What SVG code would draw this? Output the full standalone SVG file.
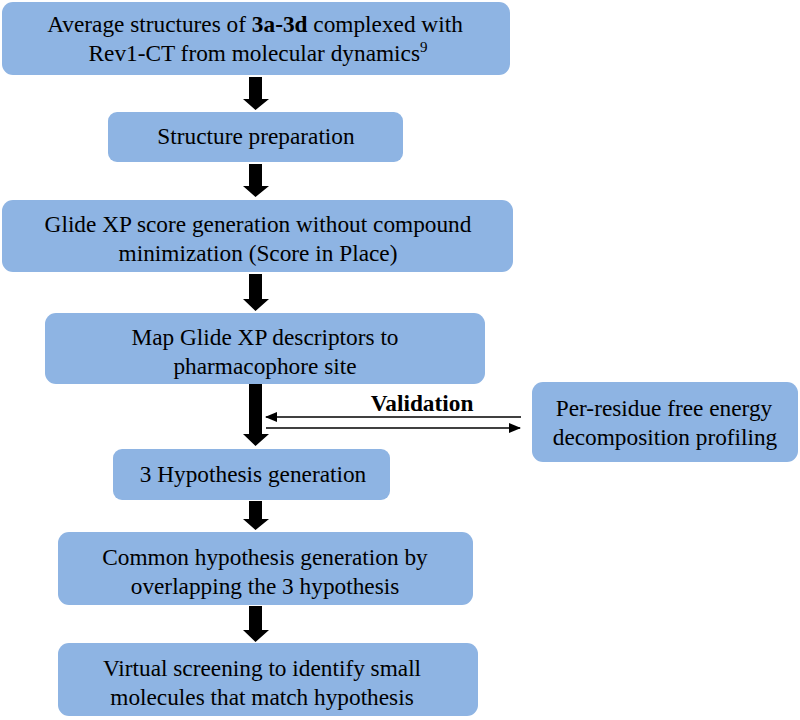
<svg xmlns="http://www.w3.org/2000/svg" width="800" height="720" viewBox="0 0 800 720">
<defs>
<style>
.box{fill:#8EB4E3;}
.t{font-size:23.3px;fill:#000;text-anchor:middle;}
.b{font-weight:bold;}
.thin{stroke:#000;stroke-width:1.5;fill:none;}
</style>
<marker id="ah" markerWidth="12" markerHeight="10" refX="11" refY="5" orient="auto" markerUnits="userSpaceOnUse">
<path d="M0,0 L12,5 L0,10 Z" fill="#000"/>
</marker>
</defs>
<rect width="800" height="720" fill="#fff"/>
<g class="t" font-family="Liberation Serif">
<g id="n1"><rect class="box" x="2" y="2" width="508" height="73" rx="11"/>
<text font-family="Liberation Serif" x="255" y="32">Average structures of <tspan class="b">3a-3d</tspan> complexed with</text>
<text font-family="Liberation Serif" x="258" y="61">Rev1-CT from molecular dynamics<tspan font-size="15" dy="-9">9</tspan></text></g>
<g id="n2"><rect class="box" x="108" y="112" width="295" height="50" rx="9"/>
<text font-family="Liberation Serif" x="256" y="144">Structure preparation</text></g>
<g id="n3"><rect class="box" x="2" y="200" width="511" height="72" rx="11"/>
<text font-family="Liberation Serif" x="258" y="232">Glide XP score generation without compound</text>
<text font-family="Liberation Serif" x="258" y="261">minimization (Score in Place)</text></g>
<g id="n4"><rect class="box" x="45" y="313" width="440" height="71" rx="11"/>
<text font-family="Liberation Serif" x="265" y="345">Map Glide XP descriptors to</text>
<text font-family="Liberation Serif" x="265" y="374">pharmacophore site</text></g>
<g id="n5"><rect class="box" x="113" y="449" width="277" height="51" rx="9"/>
<text font-family="Liberation Serif" x="253" y="482">3 Hypothesis generation</text></g>
<g id="n6"><rect class="box" x="58" y="532" width="415" height="73" rx="11"/>
<text font-family="Liberation Serif" x="265" y="565">Common hypothesis generation by</text>
<text font-family="Liberation Serif" x="265" y="594">overlapping the 3 hypothesis</text></g>
<g id="n7"><rect class="box" x="58" y="643" width="420" height="73" rx="11"/>
<text font-family="Liberation Serif" x="262" y="676">Virtual screening to identify small</text>
<text font-family="Liberation Serif" x="262" y="705">molecules that match hypothesis</text></g>
<g id="n8"><rect class="box" x="532" y="382" width="266" height="80" rx="11"/>
<text font-family="Liberation Serif" x="664" y="416">Per-residue free energy</text>
<text font-family="Liberation Serif" x="665" y="445">decomposition profiling</text></g>
<g id="connectors">
<path d="M249,77 H262 V99 H269 L255.5,110 L243,99 H249 Z" fill="#000"/>
<path d="M249,164 H262 V186 H269 L255.5,197 L243,186 H249 Z" fill="#000"/>
<path d="M249,274 H262 V299 H269 L255.5,311 L243,299 H249 Z" fill="#000"/>
<path d="M249,384 H262 V434 H269 L255.5,446 L243,434 H249 Z" fill="#000"/>
<path d="M249,501 H262 V519 H269 L255.5,530 L243,519 H249 Z" fill="#000"/>
<path d="M249,606 H262 V630 H269 L255.5,642 L243,630 H249 Z" fill="#000"/>
<line class="thin" x1="521" y1="417" x2="266" y2="417" marker-end="url(#ah)"/>
<line class="thin" x1="266" y1="428" x2="520" y2="428" marker-end="url(#ah)"/>
<text font-family="Liberation Serif" class="b" x="422" y="411">Validation</text>
</g>
</g>
</svg>
